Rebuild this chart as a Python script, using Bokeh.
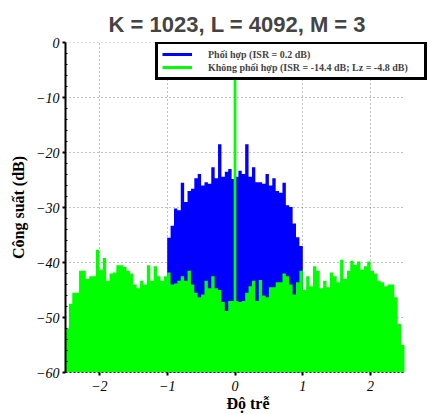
import numpy as np
from bokeh.plotting import figure
from bokeh.models import FixedTicker, Legend, LegendItem, Range1d
from bokeh.embed import file_html
from bokeh.resources import INLINE

# ---------------- data ----------------
title_text = "K = 1023, L = 4092, M = 3"
x_label = "Độ trễ"
y_label = "Công suất (dB)"
matched_label = "Phối hợp (ISR = 0.2 dB)"
unmatched_label = "Không phối hợp (ISR = -14.4 dB; Lz = -4.8 dB)"

x_ticks = [-2, -1, 0, 1, 2]
x_tick_labels = {-2: "\u22122", -1: "\u22121", 0: "0", 1: "1", 2: "2"}
y_ticks = [-60, -50, -40, -30, -20, -10, 0]
y_tick_labels = {-60: "\u221260", -50: "\u221250", -40: "\u221240", -30: "\u221230",
                 -20: "\u221220", -10: "\u221210", 0: "0"}
y_minor = [-58, -56, -54, -52, -48, -46, -44, -42, -38, -36, -34, -32,
           -28, -26, -24, -22, -18, -16, -14, -12, -8, -6, -4, -2]

delay_min, delay_max = -2.5, 2.5
floor_db = -60.0
bin_width = 0.05

# "Không phối hợp" (green): peak level in each 0.05-wide delay bin, -2.5 .. 2.5
unmatched_db = [
    -52.0, -47.5, -45.5, -45.5, -41.5, -41.5, -43.0, -42.5, -42.5, -37.7,
    -41.3, -39.2, -43.3, -42.0, -41.8, -40.5, -40.5, -40.8, -41.5, -42.0,
    -44.0, -44.7, -43.3, -44.0, -40.5, -43.3, -40.7, -42.5, -43.3, -42.5,
    -41.8, -44.0, -43.8, -43.3, -42.5, -43.3, -41.5, -44.0, -45.5, -46.3,
    -45.8, -43.3, -44.7, -42.5, -44.7, -45.0, -47.2, -48.8, -47.0, -47.0,
    -47.0, -47.2, -47.0, -45.5, -44.3, -43.3, -47.0, -43.2, -46.0, -46.3,
    -44.5, -44.5, -43.6, -43.6, -42.0, -42.5, -44.0, -45.8, -43.6, -41.5,
    -45.0, -42.5, -44.3, -40.7, -41.5, -44.7, -43.3, -44.5, -41.8, -42.5,
    -43.6, -39.5, -43.0, -41.5, -39.7, -40.4, -39.8, -41.3, -40.7, -39.8,
    -41.5, -42.0, -43.3, -43.6, -44.3, -44.0, -44.0, -46.3, -51.2, -55.0,
]
unmatched_start = -2.5

# "Phối hợp" (blue): peak level in each 0.05-wide delay bin, -1 .. 1
matched_db = [
    -35.5, -33.3, -30.2, -30.5, -25.5, -29.0, -27.0, -26.6, -24.7, -23.9,
    -26.0, -25.4, -25.7, -22.7, -24.7, -18.5, -24.4, -23.5, -23.0, -24.8,
    -24.4, -23.3, -23.9, -18.5, -24.4, -22.7, -25.4, -25.4, -25.7, -23.9,
    -26.0, -24.7, -27.0, -27.3, -25.5, -29.6, -29.9, -32.9, -35.4, -37.0,
]
matched_start = -1.0

# main correlation peak at zero delay
peak_lag = [0.0]
peak_db = [0.0]

BLUE = "#0000ff"
GREEN = "#00ff00"


def bin_edges(start, values):
    edges = np.round(start + bin_width * np.arange(len(values) + 1), 4)
    tops = list(values) + [values[-1]]
    return edges, tops


# ---------------- figure ----------------
W, H = 430, 414
frame_left, frame_right_extra = 65, 26        # px
px_per_unit = 67.8
x_end = delay_max + frame_right_extra / px_per_unit   # room for the legend box

p = figure(width=W, height=H, output_backend="svg", toolbar_location=None,
           x_range=Range1d(delay_min, x_end), y_range=Range1d(-60, 0),
           min_border_left=frame_left, min_border_right=0, min_border_top=42,
           min_border_bottom=42)
p.outline_line_color = None
p.background_fill_color = "white"
p.border_fill_color = "white"

p.title.text = title_text
p.title.align = "left"
p.title.offset = 43
p.title.text_font = "Liberation Sans"
p.title.text_font_style = "bold"
p.title.text_font_size = "22px"
p.title.standoff = 12

# horizontal grid lines (only across the delay range)
p.segment(x0=[delay_min] * len(y_ticks), x1=[delay_max] * len(y_ticks),
          y0=y_ticks, y1=y_ticks, line_color="#808080", line_dash="1 3",
          line_width=1, level="underlay")

# blue (matched) filled spikes
bx, by = bin_edges(matched_start, matched_db)
p.varea_step(x=bx, y1=[floor_db] * len(bx), y2=by, step_mode="after",
             fill_color=BLUE)
# green (unmatched) filled spikes on top
gx, gy = bin_edges(unmatched_start, unmatched_db)
p.varea_step(x=gx, y1=[floor_db] * len(gx), y2=gy, step_mode="after",
             fill_color=GREEN)
p.vbar(x=peak_lag, width=0.04, top=peak_db, bottom=floor_db,
       fill_color=GREEN, line_color=None)

# legend glyph renderers (nothing visible in the plot)
r_blue = p.line(x=[0.0], y=[np.nan], line_color=BLUE, line_width=3)
r_green = p.line(x=[0.0], y=[np.nan], line_color=GREEN, line_width=3)

legend = Legend(items=[LegendItem(label=matched_label, renderers=[r_blue]),
                       LegendItem(label=unmatched_label, renderers=[r_green])],
                location=(90, 292))
legend.label_text_font = "Liberation Serif"
legend.label_text_font_style = "bold"
legend.label_text_font_size = "10px"
legend.label_height = 12
legend.label_width = 212
legend.glyph_height = 12
legend.glyph_width = 30
legend.label_standoff = 16
legend.padding = 4
legend.spacing = 1
legend.margin = 0
legend.border_line_color = "black"
legend.border_line_width = 3
legend.border_line_alpha = 1.0
legend.background_fill_color = "white"
legend.background_fill_alpha = 1.0
p.add_layout(legend, "center")

# vertical grid lines
p.xgrid.ticker = FixedTicker(ticks=x_ticks)
p.xgrid.grid_line_color = "#808080"
p.xgrid.grid_line_dash = "1 3"
p.xgrid.grid_line_width = 1
p.ygrid.visible = False

# axes
p.xaxis.ticker = FixedTicker(ticks=x_ticks, minor_ticks=[])
p.yaxis.ticker = FixedTicker(ticks=y_ticks, minor_ticks=y_minor)
p.xaxis.major_label_overrides = x_tick_labels
p.yaxis.major_label_overrides = y_tick_labels
for ax in (p.xaxis, p.yaxis):
    ax.major_label_text_font = "Liberation Serif"
    ax.major_label_text_font_style = "italic"
    ax.major_label_text_font_size = "14px"
    ax.major_label_text_color = "black"
    ax.axis_label_text_font = "Liberation Serif"
    ax.axis_label_text_font_style = "bold"
    ax.axis_label_text_font_size = "16px"
    ax.axis_label_text_color = "black"
    ax.major_tick_line_color = "black"
    ax.minor_tick_line_color = "black"

p.xaxis.axis_label = x_label
p.xaxis.bounds = (delay_min, delay_max)
p.xaxis.axis_line_color = "#222222"
p.xaxis.axis_line_dash = "2 2"
p.xaxis.axis_line_width = 1
p.xaxis.major_tick_in = 0
p.xaxis.major_tick_out = 3
p.xaxis.major_tick_line_width = 2
p.xaxis.major_label_standoff = 5
p.xaxis.axis_label_standoff = 1

p.yaxis.axis_label = y_label
p.yaxis.axis_line_color = "black"
p.yaxis.axis_line_width = 2
p.yaxis.major_tick_in = 0
p.yaxis.major_tick_out = 3
p.yaxis.major_tick_line_width = 2
p.yaxis.minor_tick_in = 2
p.yaxis.minor_tick_out = 0
p.yaxis.minor_tick_line_width = 1
p.yaxis.major_label_standoff = 3
p.yaxis.axis_label_standoff = 6

open("out.html", "w").write(file_html(p, INLINE))
